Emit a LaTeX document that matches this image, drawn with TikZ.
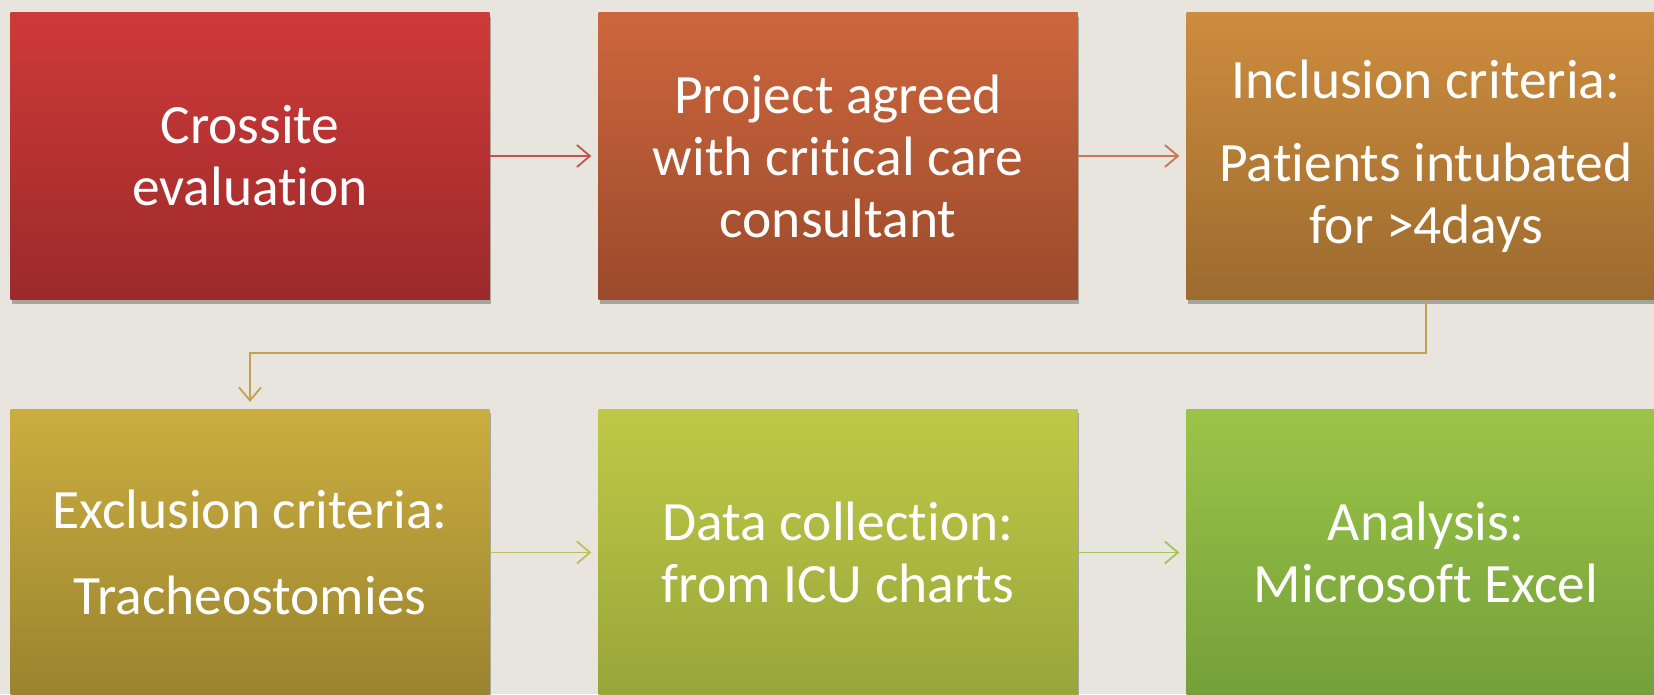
\documentclass[tikz,border=0pt]{standalone}
\usepackage{fontspec}
\setmainfont[Ligatures=NoCommon]{Carlito}
\usetikzlibrary{arrows.meta,shadows}
\definecolor{bgc}{HTML}{E7E5DE}
\tikzset{
  stepbox/.style={minimum width=479pt, minimum height=287pt, inner sep=0pt,
    text=white, align=center,
    font=\fontsize{55.5}{62}\selectfont,
    drop shadow={shadow xshift=1pt, shadow yshift=-4pt, fill=black, opacity=0.28}},
  conn/.style={line width=1.8pt, -{Straight Barb[length=13pt,width=22pt,line width=1.8pt]}, shorten >=7pt},
}
\begin{document}
\begin{tikzpicture}[x=1pt,y=1pt]
\clip (0,0) rectangle (1654,-694);
\fill[bgc] (0,0) rectangle (1654,-694);
\node[stepbox, top color={rgb,255:red,207;green,58;blue,57}, bottom color={rgb,255:red,155;green,42;blue,42}] (b1) at (250,-156) {Crossite\\evaluation};
\node[stepbox, top color={rgb,255:red,205;green,102;blue,61}, bottom color={rgb,255:red,155;green,74;blue,43}] (b2) at (838,-156) {Project agreed\\with critical care\\consultant};
\node[stepbox, top color={rgb,255:red,205;green,140;blue,62}, bottom color={rgb,255:red,156;green,107;blue,46}] (b3) at (1426,-156) {Inclusion criteria:\\[21pt]Patients intubated\\for >4days};
\node[stepbox, top color={rgb,255:red,203;green,174;blue,64}, bottom color={rgb,255:red,154;green,131;blue,46}] (b4) at (250,-552.5) {Exclusion criteria:\\[24pt]Tracheostomies};
\node[stepbox, top color={rgb,255:red,191;green,201;blue,70}, bottom color={rgb,255:red,152;green,166;blue,58}] (b5) at (838,-552.5) {Data collection:\\from ICU charts};
\node[stepbox, top color={rgb,255:red,155;green,197;blue,72}, bottom color={rgb,255:red,116;green,160;blue,58}] (b6) at (1426,-552.5) {Analysis:\\Microsoft Excel};
\coordinate (e1) at (1426,-353);
\coordinate (e2) at (250,-353);
\draw[conn, draw={rgb,255:red,196;green,84;blue,80}] (b1.east) -- (b2.west);
\draw[conn, draw={rgb,255:red,200;green,118;blue,82}] (b2.east) -- (b3.west);
\draw[conn, draw={rgb,255:red,196;green,160;blue,82}] (b3.south) -- (e1) -- (e2) -- (b4.north);
\draw[conn, draw={rgb,255:red,190;green,190;blue,92}] (b4.east) -- (b5.west);
\draw[conn, draw={rgb,255:red,164;green,196;blue,88}] (b5.east) -- (b6.west);
\end{tikzpicture}
\end{document}
